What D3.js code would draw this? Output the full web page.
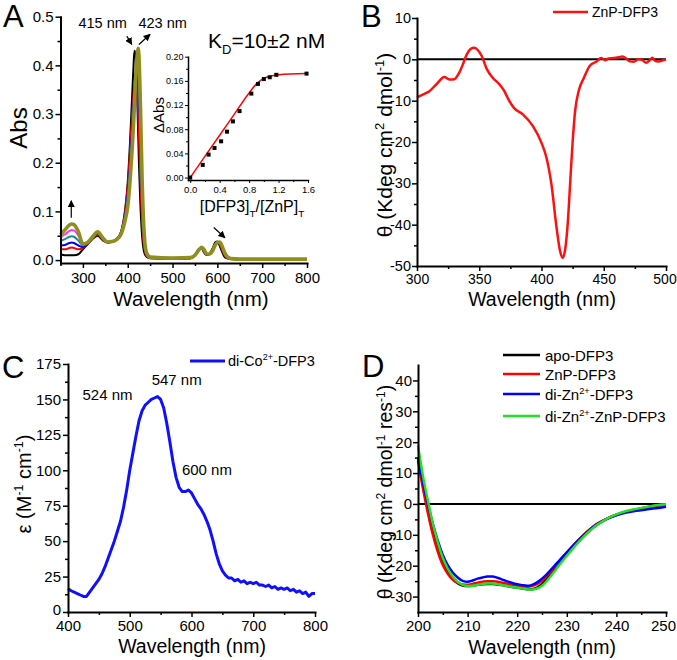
<!DOCTYPE html>
<html><head><meta charset="utf-8">
<script src="https://cdn.jsdelivr.net/npm/d3@7"></script>
<style>body{margin:0;background:#fff}svg{display:block}</style>
</head><body><svg id="c" width="677" height="660"></svg>
<script>
// ---------------- DATA ----------------
// Panel A: UV-vis titration spectra (shared wavelength grid)
const aWavelengths = [250,260,270,275,280,290,300,310,320,333,345,355,365,375,385,395,400,405,410,413,415,418,421,423,425,428,432,437,442,450,500,540,550,555,560,565,570,575,580,590,595,600,605,610,615,620,630,650,700,800];
const aBlack   = [0.012,0.010,0.010,0.010,0.010,0.012,0.022,0.032,0.042,0.050,0.040,0.036,0.038,0.043,0.058,0.11,0.16,0.24,0.34,0.40,0.43,0.42,0.34,0.27,0.20,0.12,0.05,0.015,0.007,0.004,0.003,0.004,0.010,0.018,0.024,0.024,0.016,0.011,0.012,0.025,0.036,0.038,0.030,0.018,0.008,0.004,0.002,0.001,0.001,0.001];
const aRed     = [0.022,0.022,0.025,0.026,0.025,0.022,0.025,0.033,0.043,0.052,0.042,0.036,0.038,0.043,0.057,0.105,0.15,0.22,0.30,0.34,0.36,0.37,0.35,0.31,0.26,0.17,0.08,0.025,0.009,0.004,0.003,0.004,0.010,0.017,0.023,0.025,0.019,0.012,0.012,0.023,0.033,0.037,0.033,0.023,0.012,0.006,0.002,0.001,0.001,0.001];
const aBlue    = [0.030,0.031,0.035,0.036,0.035,0.030,0.027,0.034,0.044,0.054,0.043,0.036,0.038,0.043,0.056,0.098,0.135,0.195,0.27,0.32,0.35,0.38,0.39,0.38,0.34,0.25,0.12,0.035,0.011,0.005,0.003,0.004,0.010,0.016,0.022,0.024,0.020,0.012,0.011,0.021,0.031,0.036,0.035,0.027,0.015,0.007,0.003,0.001,0.001,0.001];
const aTeal    = [0.040,0.043,0.048,0.049,0.048,0.040,0.030,0.035,0.045,0.056,0.044,0.037,0.038,0.043,0.055,0.092,0.125,0.18,0.25,0.30,0.34,0.385,0.405,0.41,0.38,0.29,0.145,0.042,0.013,0.005,0.004,0.005,0.010,0.016,0.022,0.025,0.021,0.013,0.012,0.021,0.030,0.036,0.036,0.029,0.017,0.008,0.003,0.002,0.002,0.002];
const aMagenta = [0.047,0.053,0.060,0.062,0.061,0.050,0.032,0.036,0.046,0.057,0.045,0.037,0.038,0.042,0.054,0.088,0.115,0.17,0.24,0.29,0.33,0.385,0.415,0.425,0.40,0.31,0.16,0.047,0.014,0.006,0.004,0.005,0.010,0.016,0.022,0.026,0.022,0.014,0.012,0.020,0.030,0.036,0.037,0.030,0.018,0.009,0.003,0.002,0.002,0.002];
const aOlive   = [0.052,0.062,0.072,0.074,0.073,0.058,0.033,0.036,0.046,0.058,0.045,0.037,0.038,0.042,0.053,0.085,0.11,0.16,0.23,0.28,0.32,0.38,0.42,0.435,0.42,0.33,0.17,0.05,0.015,0.006,0.004,0.005,0.010,0.016,0.022,0.026,0.022,0.014,0.012,0.020,0.030,0.036,0.037,0.030,0.018,0.009,0.003,0.002,0.002,0.002];
const aSeriesColors = ["#000000","#ff0000","#0000ff","#1a8a8a","#ff33ff","#8f8f1f"];
const aXTicks = [300,400,500,600,700,800], aXMinor = [250,350,450,550,650,750];
const aYTicks = [0,0.1,0.2,0.3,0.4,0.5], aYMinor = [0.05,0.15,0.25,0.35,0.45];

// Panel A inset: binding titration
const insetRatio = [0,0.17,0.25,0.33,0.42,0.50,0.58,0.67,0.83,0.92,1.00,1.08,1.17,1.58];
const insetDAbs  = [0,0.021,0.038,0.049,0.060,0.076,0.093,0.110,0.139,0.155,0.163,0.166,0.170,0.172];
const fitRatio   = [0,0.2,0.4,0.6,0.8,0.9,1.0,1.1,1.2,1.58];
const fitDAbs    = [0,0.035,0.07,0.105,0.14,0.155,0.164,0.168,0.170,0.172];
const inXTicks = [0,0.4,0.8,1.2,1.6], inXMinor = [0.2,0.6,1.0,1.4];
const inYTicks = [0,0.04,0.08,0.12,0.16,0.20], inYMinor = [0.02,0.06,0.10,0.14,0.18];

// Panel B: CD of ZnP-DFP3
const bWavelengths = [300,305,310,316,322,326,330,334,337,340,343,346,349,352,356,361,366,370,374,378,385,393,400,404,408,412,415,417,419,421,423,425,427,430,434,439,444,448,451,454,458,462,465,468,471,474,478,481,484,487,489,491,494,497,500];
const bTheta = [-9.2,-8.5,-7.7,-5.9,-4.3,-4.9,-4.8,-3.2,-1.1,1.2,2.5,2.8,2.2,0.8,-2.3,-4.5,-6,-7.6,-10,-11.8,-13.3,-16.1,-20.2,-23.8,-30.3,-40.5,-46.5,-48,-46,-40,-30,-20,-12.5,-7.5,-4.5,-1.5,-0.6,0.3,-0.2,0.2,0.3,0.5,0.7,0.2,-0.5,-0.6,0,-0.2,-0.8,-0.2,0.4,-0.3,-0.5,-0.3,0];
const bXTicks = [300,350,400,450,500], bXMinor = [325,375,425,475];
const bYTicks = [-50,-40,-30,-20,-10,0,10], bYMinor = [-45,-35,-25,-15,-5,5];

// Panel C: di-Co2+-DFP3 absorption
const cWavelengths = [400,405,410,415,420,425,430,435,440,445,450,455,460,465,470,475,480,485,490,495,500,505,510,515,520,525,530,535,540,545,550,555,560,565,570,575,580,585,590,595,600,605,610,615,620,625,630,635,640,645,650,655,660,665,670,675,680,685,690,695,700,705,710,715,720,725,730,735,740,745,750,755,760,765,770,775,780,785,790,795,800];
const cEps = [16.5,15,14,13,12,11,11,14,17,20,23,27,32,38,44,50,57,64,74,86,100,112,124,135,142,146,148,150,151,152,150,144,133,120,106,95,88,85,85,86,84,80,76,73,69,64,58,50,41,34,29,26,24,24,22,23,21,22,20,21,20,21,19,19,18,19,17,18,16,17,16,17,15,16,14,15,13,14,11,13,13];
const cXTicks = [400,500,600,700,800], cXMinor = [450,550,650,750];
const cYTicks = [0,25,50,75,100,125,150,175], cYMinor = [12.5,37.5,62.5,87.5,112.5,137.5,162.5];

// Panel D: far-UV CD
const dWavelengths = [200,201,202,203,204,205,206,207,208,209,210,211,212,213,214,215,216,217,218,219,220,221,222,223,224,225,226,228,230,232,234,236,238,240,242,244,246,248,250];
const dApo      = [15,6,-2,-9,-14.5,-19,-22,-24.3,-25.7,-26.4,-26.6,-26.5,-26.2,-26,-25.9,-25.9,-26.1,-26.3,-26.6,-26.9,-27.1,-27.4,-27.6,-27.6,-27.1,-26,-24.2,-20,-16.3,-12.8,-9.5,-6.8,-4.9,-3.5,-2.5,-1.8,-1.2,-0.6,-0.3];
const dZnP      = [14,5,-3,-10,-15.5,-19.8,-22.6,-24.5,-25.6,-26.1,-26.2,-25.9,-25.5,-25.2,-25,-25,-25.2,-25.5,-25.9,-26.2,-26.5,-26.7,-26.8,-26.6,-26,-24.9,-23.3,-19.4,-15.8,-12.3,-9.1,-6.5,-4.8,-3.5,-2.5,-1.8,-1.1,-0.5,-0.2];
const dDiZn     = [15,7,0,-6.5,-12,-16.5,-19.8,-22.2,-23.8,-24.9,-25.2,-24.8,-24.2,-23.8,-23.5,-23.5,-23.9,-24.5,-25.1,-25.6,-26,-26.3,-26.5,-26.2,-25.4,-24.2,-22.7,-19.2,-15.7,-12.3,-9.2,-6.7,-4.9,-3.7,-2.8,-2.2,-1.8,-1.4,-0.9];
const dDiZnZnP  = [19,9,1,-6.5,-12.5,-17.5,-21,-23.5,-25.2,-26.2,-26.6,-26.5,-26.2,-25.9,-25.8,-25.8,-26,-26.3,-26.6,-26.9,-27.1,-27.4,-27.6,-27.7,-27.4,-26.5,-24.9,-20.8,-16.8,-13,-9.6,-6.9,-4.9,-3.4,-2.3,-1.6,-1,-0.4,-0.1];
const dNames  = ["apo-DFP3","ZnP-DFP3","di-Zn2+-DFP3","di-Zn2+-ZnP-DFP3"];
const dColors = ["#000000","#ff0000","#0000ff","#22e022"];
const dXTicks = [200,210,220,230,240,250], dXMinor = [205,215,225,235,245];
const dYTicks = [-30,-20,-10,0,10,20,30,40], dYMinor = [-25,-15,-5,5,15,25,35];

// ---------------- DRAWING ----------------
const FONT = '"Liberation Sans", Arial, Helvetica, sans-serif';
const svg = d3.select('#c');
svg.append('rect').attr('width',677).attr('height',660).attr('fill','#fff');
const defs = svg.append('defs');
defs.append('marker').attr('id','ah').attr('viewBox','0 0 10 10').attr('refX',9).attr('refY',5)
  .attr('markerWidth',6).attr('markerHeight',6).attr('orient','auto-start-reverse')
  .append('path').attr('d','M0,0L10,5L0,10z').attr('fill','#000');

function makeAxis(scale, orient, pos, major, minor, fmt, o) {
  const mk = orient === 'left' ? d3.axisLeft : d3.axisBottom;
  const tr = orient === 'left' ? `translate(${pos},0)` : `translate(0,${pos})`;
  const gm = svg.append('g').attr('transform', tr)
    .call(mk(scale).tickValues(minor).tickSize(o.minorLen).tickFormat('').tickSizeOuter(0));
  gm.select('.domain').remove();
  gm.selectAll('.tick line').attr('stroke','#000').attr('stroke-width', o.tw);
  const ga = svg.append('g').attr('transform', tr)
    .call(mk(scale).tickValues(major).tickSize(o.majorLen).tickPadding(o.pad).tickFormat(fmt).tickSizeOuter(0));
  ga.select('.domain').attr('stroke','#000').attr('stroke-width', o.lw).attr('stroke-linecap','square');
  ga.selectAll('.tick line').attr('stroke','#000').attr('stroke-width', o.tw);
  ga.selectAll('.tick text').attr('font-family', FONT).attr('font-size', o.fs).attr('fill','#000');
  if (o.lastDx) ga.selectAll('.tick text').filter((d, i, n) => i === n.length - 1).attr('dx', o.lastDx);
  if (o.firstDy) ga.selectAll('.tick text').filter((d, i) => i === 0).attr('dy', o.firstDy);
  return ga;
}
function rich(t, parts, fs) {
  let shift = 0;
  parts.forEach(([s, k]) => {
    const target = k === 'sup' ? -0.38*fs : k === 'sub' ? 0.3*fs : 0;
    t.append('tspan').attr('dy', target - shift).attr('font-size', k ? fs*0.62 : fs).text(s);
    shift = target;
  });
  return t;
}
function txt(x, y, fs, anchor) {
  return svg.append('text').attr('x', x).attr('y', y).attr('font-family', FONT)
    .attr('font-size', fs).attr('text-anchor', anchor || 'start').attr('fill', '#000');
}
function vtitle(x, y, fs, parts) {
  const t = svg.append('text').attr('transform', `translate(${x},${y}) rotate(-90)`)
    .attr('font-family', FONT).attr('font-size', fs).attr('text-anchor','middle').attr('fill','#000');
  return rich(t, parts, fs);
}
function series(xs, ys) { return xs.map((x, i) => [x, ys[i]]); }
const str = d => String(d);
function arrow(x1, y1, x2, y2) {
  svg.append('line').attr('x1', x1).attr('y1', y1).attr('x2', x2).attr('y2', y2)
    .attr('stroke','#000').attr('stroke-width',1.2).attr('marker-end','url(#ah)');
}

// ===== Panel A =====
const xA = d3.scaleLinear().domain([250, 800]).range([60.5, 307]);
const yA = d3.scaleLinear().domain([-0.006, 0.5]).range([263, 16.7]);
const lineA = d3.line().x(d => xA(d[0])).y(d => yA(d[1])).curve(d3.curveMonotoneX);
const aSeries = [aBlack, aRed, aBlue, aTeal, aMagenta, aOlive];
aSeries.forEach((s, i) => {
  svg.append('path').datum(series(aWavelengths, s)).attr('d', lineA).attr('fill','none')
    .attr('stroke', aSeriesColors[i]).attr('stroke-width', i === 5 ? 3.6 : 2).attr('stroke-linejoin','round');
});
makeAxis(xA, 'bottom', 263, aXTicks, aXMinor, str, {majorLen:5, minorLen:3, pad:4, tw:1.5, lw:2, fs:15});
makeAxis(yA, 'left', 60.5, aYTicks, aYMinor, d3.format('.1f'), {majorLen:5, minorLen:3, pad:2, tw:1.5, lw:2, fs:15});
txt(3, 27, 31).text('A');
vtitle(27, 128, 24, [['Abs']]);
txt(191, 306, 20.5, 'middle').text('Wavelength (nm)');
txt(xA(344), yA(0.4775), 14.5, 'middle').text('415 nm');
txt(xA(478), yA(0.4775), 14.5, 'middle').text('423 nm');
arrow(xA(398), yA(0.46), xA(409), yA(0.443));
arrow(xA(425), yA(0.443), xA(450), yA(0.464));
arrow(xA(274), yA(0.087), xA(274), yA(0.122));
arrow(xA(592), yA(0.067), xA(617), yA(0.046));
rich(txt(208, 48, 21), [['K'], ['D','sub'], ['=10±2 nM']], 21);

// ===== Inset =====
const xI = d3.scaleLinear().domain([-0.03, 1.6]).range([188, 308]);
const yI = d3.scaleLinear().domain([-0.004, 0.2]).range([180, 56.7]);
svg.append('path').datum(series(fitRatio, fitDAbs))
  .attr('d', d3.line().x(d => xI(d[0])).y(d => yI(d[1])).curve(d3.curveMonotoneX))
  .attr('fill','none').attr('stroke','#ff0000').attr('stroke-width',1.5);
svg.selectAll('rect.pt').data(series(insetRatio, insetDAbs)).enter().append('rect')
  .attr('x', d => xI(d[0]) - 2).attr('y', d => yI(d[1]) - 2).attr('width', 4).attr('height', 4).attr('fill','#000');
makeAxis(xI, 'bottom', 180, inXTicks, inXMinor, d3.format('.1f'), {majorLen:3, minorLen:2, pad:3, tw:1, lw:1.5, fs:9.5});
makeAxis(yI, 'left', 188, inYTicks, inYMinor, d3.format('.2f'), {majorLen:3, minorLen:2, pad:1.5, tw:1, lw:1.5, fs:9});
vtitle(164, 115, 15, [['ΔAbs']]);
rich(txt(252, 212, 16, 'middle'), [['[DFP3]'], ['T','sub'], ['/[ZnP]'], ['T','sub']], 16);

// ===== Panel B =====
const xB = d3.scaleLinear().domain([300, 500]).range([417, 666]);
const yB = d3.scaleLinear().domain([-50, 10]).range([266, 18]);
svg.append('line').attr('x1', xB(300)).attr('x2', xB(500)).attr('y1', yB(0)).attr('y2', yB(0))
  .attr('stroke','#000').attr('stroke-width',2);
svg.append('path').datum(series(bWavelengths, bTheta))
  .attr('d', d3.line().x(d => xB(d[0])).y(d => yB(d[1])).curve(d3.curveMonotoneX))
  .attr('fill','none').attr('stroke','#ff1010').attr('stroke-width',2.5).attr('stroke-linejoin','round');
makeAxis(xB, 'bottom', 266, bXTicks, bXMinor, str, {majorLen:5, minorLen:3, pad:3, tw:1.5, lw:2, fs:14, lastDx:'-1.5px'});
makeAxis(yB, 'left', 417, bYTicks, bYMinor, str, {majorLen:5, minorLen:3, pad:1, tw:1.5, lw:2, fs:14.5});
txt(361, 27, 31).text('B');
vtitle(392, 145, 21, [['θ (Kdeg cm'], ['2','sup'], [' dmol'], ['-1','sup'], [')']]);
txt(542, 306, 19.5, 'middle').text('Wavelength (nm)');
svg.append('line').attr('x1',553).attr('x2',588).attr('y1',12).attr('y2',12).attr('stroke','#ff1010').attr('stroke-width',2.5);
txt(592, 17, 14).text('ZnP-DFP3');

// ===== Panel C =====
const xC = d3.scaleLinear().domain([400, 800]).range([68, 315]);
const yC = d3.scaleLinear().domain([0, 175]).range([612, 364]);
svg.append('path').datum(series(cWavelengths, cEps))
  .attr('d', d3.line().x(d => xC(d[0])).y(d => yC(d[1])))
  .attr('fill','none').attr('stroke','#1010ff').attr('stroke-width',3).attr('stroke-linejoin','round');
makeAxis(xC, 'bottom', 612, cXTicks, cXMinor, str, {majorLen:5, minorLen:3, pad:3, tw:1.5, lw:2, fs:15});
makeAxis(yC, 'left', 68, cYTicks, cYMinor, str, {majorLen:5, minorLen:3, pad:2, tw:1.5, lw:2, fs:15, firstDy:'0.15em'});
txt(2, 378, 31).text('C');
vtitle(31, 484, 20, [['ε (M'], ['-1','sup'], [' cm'], ['-1','sup'], [')']]);
txt(192, 653, 19.5, 'middle').text('Wavelength (nm)');
txt(xC(464), yC(149.5), 15, 'middle').text('524 nm');
txt(xC(576), yC(160), 15, 'middle').text('547 nm');
txt(xC(625), yC(96.5), 15, 'middle').text('600 nm');
svg.append('line').attr('x1',190).attr('x2',225).attr('y1',361).attr('y2',361).attr('stroke','#1010ff').attr('stroke-width',3);
rich(txt(228, 366, 14.5), [['di-Co'], ['2+','sup'], ['-DFP3']], 14.5);

// ===== Panel D =====
const xD = d3.scaleLinear().domain([200, 250]).range([418, 666]);
const yD = d3.scaleLinear().domain([-35, 45]).range([612, 365]);
svg.append('line').attr('x1', xD(200)).attr('x2', xD(250)).attr('y1', yD(0)).attr('y2', yD(0))
  .attr('stroke','#000').attr('stroke-width',2);
const lineD = d3.line().x(d => xD(d[0])).y(d => yD(d[1])).curve(d3.curveMonotoneX);
[dApo, dZnP, dDiZn, dDiZnZnP].forEach((s, i) => {
  svg.append('path').datum(series(dWavelengths, s)).attr('d', lineD).attr('fill','none')
    .attr('stroke', dColors[i]).attr('stroke-width', 2.5).attr('stroke-linejoin','round');
});
makeAxis(xD, 'bottom', 612, dXTicks, dXMinor, str, {majorLen:5, minorLen:3, pad:3, tw:1.5, lw:2, fs:15, lastDx:'-3px'});
makeAxis(yD, 'left', 418, dYTicks, dYMinor, str, {majorLen:5, minorLen:3, pad:1, tw:1.5, lw:2, fs:15});
txt(362, 377, 31).text('D');
vtitle(392, 492, 19.5, [['θ (Kdeg cm'], ['2','sup'], [' dmol'], ['-1','sup'], [' res'], ['-1','sup'], [')']]);
txt(542, 654, 19.5, 'middle').text('Wavelength (nm)');
const legY = [355, 374, 394, 416];
dNames.forEach((n, i) => {
  svg.append('line').attr('x1',503).attr('x2',540).attr('y1',legY[i]).attr('y2',legY[i])
    .attr('stroke', dColors[i]).attr('stroke-width',2.5);
  const t = txt(545, legY[i] + 5.5, 15);
  const m = n.match(/^(.*Zn)(2\+)(.*)$/);
  if (m) rich(t, [[m[1]], [m[2],'sup'], [m[3]]], 15); else t.text(n);
});
</script></body></html>
